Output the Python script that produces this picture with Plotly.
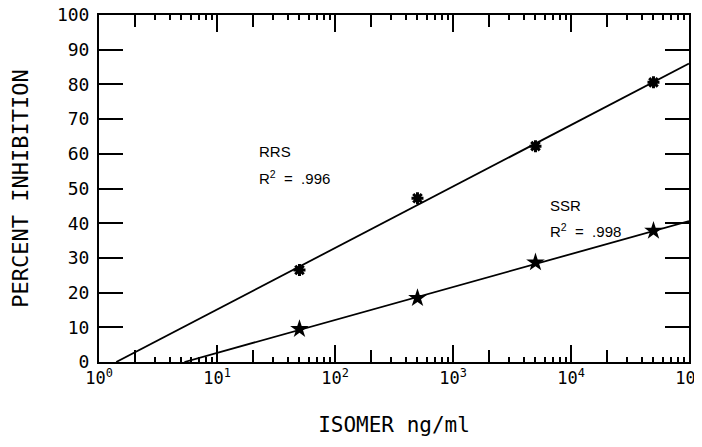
import plotly.graph_objects as go

# ---- data ----
concentration = [50, 500, 5000, 50000]          # ng/ml
rrs_inhibition = [26.5, 47.2, 62.2, 80.6]       # percent
ssr_inhibition = [9.5, 18.4, 28.7, 37.8]        # percent

# fitted lines (end points)
rrs_fit_x = [1.4, 100000]
rrs_fit_y = [0, 86.0]
ssr_fit_x = [5.3, 100000]
ssr_fit_y = [0, 40.6]

decade_ticks = [1, 10, 100, 1000, 10000, 100000]
decade_labels = ["10<sup>0</sup>", "10<sup>1</sup>", "10<sup>2</sup>",
                 "10<sup>3</sup>", "10<sup>4</sup>", "10<sup>5</sup>"]
y_ticks = [0, 10, 20, 30, 40, 50, 60, 70, 80, 90, 100]

two_ticks = [2 * d for d in decade_ticks[:-1]]
small_ticks = [m * d for d in decade_ticks[:-1] for m in range(3, 10)]

MONO = "DejaVu Sans Mono"
SANS = "Liberation Sans"

fig = go.Figure()

fig.add_trace(go.Scatter(x=rrs_fit_x, y=rrs_fit_y, mode="lines",
                         line=dict(color="black", width=1.8), showlegend=False))
fig.add_trace(go.Scatter(x=ssr_fit_x, y=ssr_fit_y, mode="lines",
                         line=dict(color="black", width=1.8), showlegend=False))
fig.add_trace(go.Scatter(x=concentration, y=rrs_inhibition, mode="markers",
                         marker=dict(symbol="asterisk-open", size=10, color="black",
                                     line=dict(color="black", width=3)),
                         showlegend=False))
fig.add_trace(go.Scatter(x=concentration, y=ssr_inhibition, mode="markers",
                         marker=dict(symbol="star", size=14, color="black",
                                     line=dict(color="black", width=0)),
                         showlegend=False))
# invisible trace to carry the secondary tick axis
fig.add_trace(go.Scatter(x=[decade_ticks[0]], y=[0], xaxis="x2", mode="markers",
                         marker=dict(opacity=0), showlegend=False, hoverinfo="skip"))

ann_font = dict(family=SANS, size=15, color="black")
fig.add_annotation(x=1.339, y=60.8, text="RRS", showarrow=False, xanchor="left",
                   yanchor="middle", font=ann_font)
fig.add_annotation(x=1.339, y=53.2, text="R<sup>2</sup>  =  .996", showarrow=False,
                   xanchor="left", yanchor="middle", font=ann_font)
fig.add_annotation(x=3.805, y=45.2, text="SSR", showarrow=False, xanchor="left",
                   yanchor="middle", font=ann_font)
fig.add_annotation(x=3.805, y=38.0, text="R<sup>2</sup>  =  .998", showarrow=False,
                   xanchor="left", yanchor="middle", font=ann_font)

# the page body adds an 8 px offset, so the figure is sized/margined to compensate
fig.update_layout(
    width=694, height=431,
    margin=dict(l=91, r=13, t=7, b=77, autoexpand=False),
    paper_bgcolor="white", plot_bgcolor="white",
    font=dict(family=MONO, color="black"),
    xaxis=dict(
        type="log", range=[0, 5], automargin=False, ticklabeloverflow="allow",
        tickmode="array", tickvals=decade_ticks, ticktext=decade_labels,
        ticks="inside", ticklen=17, tickwidth=1.5, tickcolor="black",
        minor=dict(tickmode="array", tickvals=small_ticks, ticks="inside",
                   ticklen=5, tickwidth=1.5, tickcolor="black", showgrid=False),
        showline=True, linecolor="black", linewidth=2, mirror="ticks",
        showgrid=False, zeroline=False,
        tickfont=dict(family=MONO, size=17),
        title=dict(text="ISOMER ng/ml", font=dict(family=MONO, size=21), standoff=30),
    ),
    xaxis2=dict(
        type="log", range=[0, 5], overlaying="x", anchor="y", automargin=False,
        tickmode="array", tickvals=two_ticks, showticklabels=False,
        ticks="inside", ticklen=12, tickwidth=1.5, tickcolor="black",
        showline=False, mirror="ticks", showgrid=False, zeroline=False,
    ),
    yaxis=dict(
        range=[0, 100], tickmode="array", tickvals=y_ticks, automargin=False,
        ticklabeloverflow="allow",
        ticks="inside", ticklen=24, tickwidth=1.5, tickcolor="black",
        showline=True, linecolor="black", linewidth=2, mirror="ticks",
        showgrid=False, zeroline=False, ticklabelstandoff=4,
        tickfont=dict(family=MONO, size=18),
        title=dict(text="PERCENT INHIBITION", font=dict(family=MONO, size=22), standoff=22),
    ),
)

fig.write_html("out.html")
